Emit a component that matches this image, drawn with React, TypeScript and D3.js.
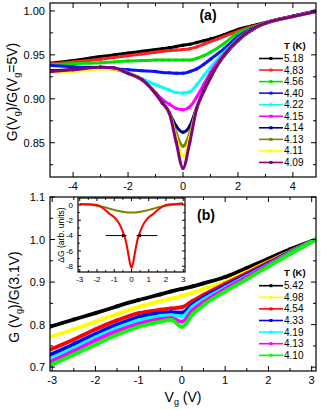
import React from "react";
import * as d3 from "d3";

// ---- panel (a) data: G(Vg)/G(Vg=5V) ----
const vA = [-4.8, -4, -3, -2.5, -2, -1.5, -1, -0.75, -0.5, -0.25, 0, 0.25, 0.5, 0.75, 1, 1.5, 2, 2.5, 3, 4, 4.8];
const tempsA = ["5.18", "4.83", "4.56", "4.40", "4.22", "4.15", "4.14", "4.13", "4.11", "4.09"];
const colorsA = ["#000000", "#ff2020", "#00e000", "#1010ff", "#00ffff", "#ff00ff", "#000080", "#808000", "#ffff00", "#800080"];
const a518 = [0.9405, 0.9435, 0.948, 0.950, 0.952, 0.954, 0.956, 0.957, 0.958, 0.9595, 0.961, 0.962, 0.964, 0.966, 0.968, 0.973, 0.979, 0.983, 0.987, 0.994, 0.999];
const a483 = [0.9395, 0.942, 0.945, 0.947, 0.949, 0.951, 0.953, 0.954, 0.955, 0.9555, 0.956, 0.957, 0.959, 0.962, 0.965, 0.971, 0.977, 0.982, 0.986, 0.994, 0.999];
const a456 = [0.939, 0.940, 0.941, 0.942, 0.943, 0.9435, 0.944, 0.944, 0.944, 0.944, 0.944, 0.944, 0.946, 0.949, 0.953, 0.963, 0.975, 0.981, 0.986, 0.994, 0.999];
const a440 = [0.938, 0.9365, 0.935, 0.934, 0.933, 0.932, 0.931, 0.930, 0.9295, 0.929, 0.929, 0.931, 0.934, 0.939, 0.945, 0.957, 0.971, 0.980, 0.986, 0.994, 1.0];
const a422 = [0.932, 0.933, 0.935, 0.934, 0.930, 0.923, 0.916, 0.913, 0.910, 0.907, 0.9065, 0.908, 0.916, 0.926, 0.936, 0.953, 0.968, 0.979, 0.986, 0.994, 0.999];
const a415 = [0.932, 0.933, 0.935, 0.934, 0.929, 0.922, 0.907, 0.899, 0.894, 0.889, 0.8875, 0.891, 0.902, 0.916, 0.930, 0.951, 0.967, 0.979, 0.986, 0.994, 0.999];
const a414 = [0.932, 0.933, 0.936, 0.935, 0.929, 0.922, 0.906, 0.896, 0.884, 0.869, 0.862, 0.869, 0.890, 0.910, 0.926, 0.949, 0.966, 0.978, 0.986, 0.994, 0.999];
const a413 = [0.931, 0.932, 0.935, 0.934, 0.929, 0.922, 0.906, 0.895, 0.884, 0.861, 0.846, 0.861, 0.889, 0.908, 0.924, 0.950, 0.967, 0.979, 0.986, 0.9935, 0.999];
const a411 = [0.930, 0.931, 0.934, 0.934, 0.929, 0.922, 0.906, 0.895, 0.884, 0.856, 0.8345, 0.856, 0.889, 0.908, 0.924, 0.950, 0.967, 0.979, 0.986, 0.9935, 0.999];
const a409 = [0.931, 0.933, 0.936, 0.935, 0.929, 0.922, 0.906, 0.895, 0.884, 0.851, 0.821, 0.851, 0.889, 0.908, 0.924, 0.950, 0.967, 0.979, 0.986, 0.9935, 0.999];
const seriesA = [a518, a483, a456, a440, a422, a415, a414, a413, a411, a409];

// ---- panel (b) data: G(Vg)/G(3.1V) ----
const vB = [-3.05, -2.5, -2, -1.5, -1, -0.5, -0.25, 0, 0.25, 0.5, 1, 1.5, 2, 2.5, 3.1];
const tempsB = ["5.42", "4.98", "4.54", "4.33", "4.19", "4.13", "4.10"];
const colorsB = ["#000000", "#ffff00", "#ff0000", "#0000ff", "#00ffff", "#ff00ff", "#00ff00"];
const b542 = [0.795, 0.812, 0.827, 0.843, 0.858, 0.871, 0.878, 0.884, 0.890, 0.897, 0.912, 0.933, 0.955, 0.977, 1.0];
const b498 = [0.771, 0.789, 0.807, 0.825, 0.842, 0.855, 0.861, 0.867, 0.875, 0.884, 0.901, 0.924, 0.948, 0.972, 1.0];
const b454 = [0.741, 0.765, 0.789, 0.810, 0.827, 0.835, 0.838, 0.841, 0.856, 0.870, 0.896, 0.921, 0.946, 0.971, 1.0];
const b433 = [0.729, 0.754, 0.778, 0.800, 0.818, 0.827, 0.829, 0.828, 0.848, 0.864, 0.891, 0.917, 0.943, 0.970, 1.0];
const b419 = [0.719, 0.745, 0.770, 0.792, 0.810, 0.820, 0.822, 0.819, 0.842, 0.859, 0.887, 0.914, 0.941, 0.969, 1.0];
const b413 = [0.712, 0.738, 0.763, 0.785, 0.802, 0.813, 0.815, 0.807, 0.834, 0.853, 0.884, 0.912, 0.940, 0.968, 1.0];
const b410 = [0.704, 0.730, 0.753, 0.776, 0.795, 0.807, 0.811, 0.795, 0.825, 0.846, 0.878, 0.907, 0.937, 0.966, 1.0];
const seriesB = [b542, b498, b454, b433, b419, b413, b410];

// ---- inset data: ΔG (arb. units) ----
const vIn = [-3, -2.5, -2, -1.5, -1.25, -1, -0.75, -0.5, -0.35, -0.2, -0.1, 0, 0.1, 0.2, 0.35, 0.5, 0.75, 1, 1.25, 1.5, 2, 2.5, 3];
const inRed = [0.1, 0.1, 0, -0.7, -1.2, -1.6, -2.3, -3.5, -4.5, -6.2, -7.5, -8.2, -7.5, -6.2, -4.5, -3.5, -2.3, -1.6, -1.2, -0.7, 0, 0.1, 0.2];
const inOlive = [0.1, 0.05, -0.1, -0.35, -0.5, -0.65, -0.8, -0.9, -0.95, -1.0, -1.0, -1.0, -1.0, -1.0, -0.95, -0.9, -0.8, -0.65, -0.5, -0.35, -0.1, 0.05, 0.1];

const font = "'Liberation Sans', Arial, sans-serif";

type Box = { l: number; r: number; t: number; b: number };

function Frame({ box, x, y, xMajor, xMinor, yMajor, yMinor, fx, fy, fs, tl }: any) {
  const big = tl, small = tl * 0.6;
  return (
    <g fontFamily={font} fontSize={fs}>
      <rect x={box.l} y={box.t} width={box.r - box.l} height={box.b - box.t} fill="none" stroke="#000" strokeWidth={1.2} />
      {xMajor.map((v: number) => (
        <g key={"xm" + v}>
          <line x1={x(v)} x2={x(v)} y1={box.b} y2={box.b - big} stroke="#000" />
          <line x1={x(v)} x2={x(v)} y1={box.t} y2={box.t + big} stroke="#000" />
          <text x={x(v)} y={box.b + fs + 2} textAnchor="middle">{fx(v)}</text>
        </g>
      ))}
      {xMinor.map((v: number) => (
        <g key={"xn" + v}>
          <line x1={x(v)} x2={x(v)} y1={box.b} y2={box.b - small} stroke="#000" />
          <line x1={x(v)} x2={x(v)} y1={box.t} y2={box.t + small} stroke="#000" />
        </g>
      ))}
      {yMajor.map((v: number) => (
        <g key={"ym" + v}>
          <line x1={box.l} x2={box.l + big} y1={y(v)} y2={y(v)} stroke="#000" />
          <line x1={box.r} x2={box.r - big} y1={y(v)} y2={y(v)} stroke="#000" />
          <text x={box.l - 5} y={y(v) + fs * 0.36} textAnchor="end">{fy(v)}</text>
        </g>
      ))}
      {yMinor.map((v: number) => (
        <g key={"yn" + v}>
          <line x1={box.l} x2={box.l + small} y1={y(v)} y2={y(v)} stroke="#000" />
          <line x1={box.r} x2={box.r - small} y1={y(v)} y2={y(v)} stroke="#000" />
        </g>
      ))}
    </g>
  );
}

function Legend({ x0, y0, step, temps, colors }: any) {
  return (
    <g fontFamily={font} fontSize={10}>
      <text x={x0 + 25} y={y0 - 10} fontWeight="bold" fontSize={9.5}>T (K)</text>
      {temps.map((t: string, i: number) => {
        const yy = y0 + i * step;
        return (
          <g key={t}>
            <line x1={x0} x2={x0 + 24} y1={yy} y2={yy} stroke={colors[i]} strokeWidth={1.6} />
            <rect x={x0 + 10.5} y={yy - 1.5} width={3} height={3} fill={colors[i]} />
            <text x={x0 + 25} y={yy + 3.5}>{t}</text>
          </g>
        );
      })}
    </g>
  );
}

export default function App() {
  const boxA: Box = { l: 50, r: 316, t: 3, b: 177 };
  const boxB: Box = { l: 50, r: 316, t: 197, b: 371 };
  const boxI: Box = { l: 78, r: 185, t: 198, b: 272 };

  const xA = d3.scaleLinear().domain([-4.84, 4.84]).range([boxA.l, boxA.r]);
  const yA = d3.scaleLinear().domain([0.811, 1.009]).range([boxA.b, boxA.t]);
  const xB = d3.scaleLinear().domain([-3.05, 3.1]).range([boxB.l, boxB.r]);
  const yB = d3.scaleLinear().domain([0.691, 1.1]).range([boxB.b, boxB.t]);
  const xI = d3.scaleLinear().domain([-3.1, 3.1]).range([boxI.l, boxI.r]);
  const yI = d3.scaleLinear().domain([-8.75, 0.9]).range([boxI.b, boxI.t]);

  const lineA = d3.line<number>().x((_, i) => xA(vA[i])).y((d) => yA(d)).curve(d3.curveMonotoneX);
  const lineB = d3.line<number>().x((_, i) => xB(vB[i])).y((d) => yB(d)).curve(d3.curveMonotoneX);
  const lineI = d3.line<number>().x((_, i) => xI(vIn[i])).y((d) => yI(d)).curve(d3.curveMonotoneX);

  const r = (a: number, b: number, s: number) => d3.range(a, b + s / 2, s).map((v) => +v.toFixed(3));

  return (
    <svg width={332} height={410} style={{ position: "absolute", left: 0, top: 0 }}>
      <defs>
        <clipPath id="clipA"><rect x={boxA.l} y={boxA.t} width={boxA.r - boxA.l} height={boxA.b - boxA.t} /></clipPath>
        <clipPath id="clipB"><rect x={boxB.l} y={boxB.t} width={boxB.r - boxB.l} height={boxB.b - boxB.t} /></clipPath>
        <marker id="arr" viewBox="0 0 10 10" refX={9} refY={5} markerWidth={5} markerHeight={5} orient="auto">
          <path d="M0,1 L10,5 L0,9 Z" fill="#000" />
        </marker>
      </defs>
      <rect width={332} height={410} fill="#fff" />

      {/* panel (a) */}
      <g clipPath="url(#clipA)">
        {seriesA.map((s, k) => (
          <g key={k}>
            <path d={lineA(s) || ""} fill="none" stroke={colorsA[k]} strokeWidth={3} />
            {s.map((d, i) => (
              <circle key={i} cx={xA(vA[i])} cy={yA(d)} r={1.7} fill={colorsA[k]} />
            ))}
          </g>
        ))}
      </g>
      <Frame box={boxA} x={xA} y={yA} xMajor={[-4, -2, 0, 2, 4]} xMinor={[-3, -1, 1, 3]}
        yMajor={[0.85, 0.9, 0.95, 1.0]} yMinor={[0.825, 0.875, 0.925, 0.975]}
        fx={(v: number) => String(v)} fy={(v: number) => v.toFixed(2)} fs={11} tl={5} />
      <Legend x0={259} y0={58.5} step={11.55} temps={tempsA} colors={colorsA} />
      <text x={208} y={20} fontFamily={font} fontSize={14} fontWeight="bold" textAnchor="middle">(a)</text>
      <text transform="translate(17,92) rotate(-90)" fontFamily={font} fontSize={14} textAnchor="middle">
        G(V<tspan fontSize={9} dy={3}>g</tspan><tspan dy={-3}>)/G(V</tspan><tspan fontSize={9} dy={3}>g</tspan><tspan dy={-3}>=5V)</tspan>
      </text>

      {/* panel (b) */}
      <g clipPath="url(#clipB)">
        {seriesB.map((s, k) => (
          <g key={k}>
            <path d={lineB(s) || ""} fill="none" stroke={colorsB[k]} strokeWidth={3.8} />
            {s.map((d, i) => (
              <circle key={i} cx={xB(vB[i])} cy={yB(d)} r={2} fill={colorsB[k]} />
            ))}
          </g>
        ))}
      </g>
      <Frame box={boxB} x={xB} y={yB} xMajor={r(-3, 3, 1)} xMinor={r(-2.5, 2.5, 1)}
        yMajor={[0.7, 0.8, 0.9, 1.0, 1.1]} yMinor={[0.75, 0.85, 0.95, 1.05]}
        fx={(v: number) => String(v)} fy={(v: number) => v.toFixed(1)} fs={11} tl={5} />
      <Legend x0={259} y0={285.7} step={11.6} temps={tempsB} colors={colorsB} />
      <text x={206} y={220} fontFamily={font} fontSize={14} fontWeight="bold" textAnchor="middle">(b)</text>
      <text transform="translate(19,297) rotate(-90)" fontFamily={font} fontSize={14} textAnchor="middle">
        G (V<tspan fontSize={9} dy={3}>g</tspan><tspan dy={-3}>)/G(3.1V)</tspan>
      </text>
      <text x={183} y={402} fontFamily={font} fontSize={14} textAnchor="middle">
        V<tspan fontSize={9} dy={3}>g</tspan><tspan dy={-3}> (V)</tspan>
      </text>

      {/* inset */}
      <rect x={boxI.l} y={boxI.t} width={boxI.r - boxI.l} height={boxI.b - boxI.t} fill="#fff" />
      <path d={lineI(inOlive) || ""} fill="none" stroke="#808000" strokeWidth={2} />
      <path d={lineI(inRed) || ""} fill="none" stroke="#ff0000" strokeWidth={2} />
      <line x1={xI(-1.5)} x2={xI(-0.3)} y1={yI(-4)} y2={yI(-4)} stroke="#000" strokeWidth={1} markerEnd="url(#arr)" />
      <line x1={xI(1.5)} x2={xI(0.3)} y1={yI(-4)} y2={yI(-4)} stroke="#000" strokeWidth={1} markerEnd="url(#arr)" />
      <Frame box={boxI} x={xI} y={yI} xMajor={r(-3, 3, 1)} xMinor={r(-2.5, 2.5, 1)}
        yMajor={[-8, -6, -4, -2, 0]} yMinor={[-7, -5, -3, -1]}
        fx={(v: number) => String(v)} fy={(v: number) => String(v)} fs={8} tl={3} />
      <text transform="translate(64,235) rotate(-90)" fontFamily={font} fontSize={8.5} textAnchor="middle">ΔG (arb. units)</text>
    </svg>
  );
}
